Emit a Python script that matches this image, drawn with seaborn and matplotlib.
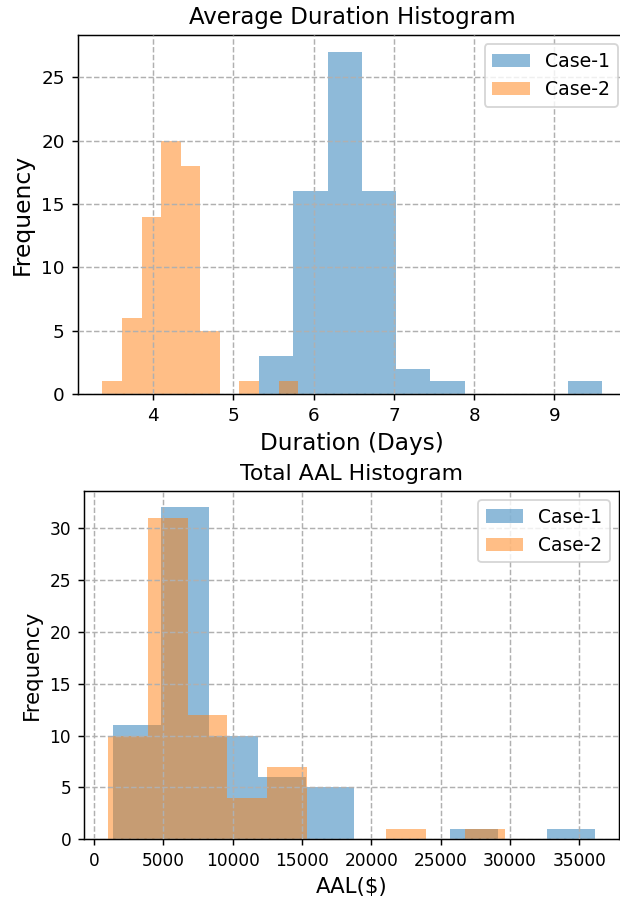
import numpy as np
import matplotlib
matplotlib.use("Agg")
import matplotlib.pyplot as plt
import seaborn as sns

# ---- data ----
n_bins = 10
dur_case1_range = (5.317, 9.595)
dur_case1_counts = [3, 16, 27, 16, 2, 1, 0, 0, 0, 1]
dur_case2_range = (3.368, 5.807)
dur_case2_counts = [1, 6, 14, 20, 18, 5, 0, 1, 0, 1]

aal_case1_range = (1357, 36121)
aal_case1_counts = [11, 32, 10, 6, 5, 0, 0, 1, 0, 1]
aal_case2_range = (1019, 29645)
aal_case2_counts = [10, 31, 12, 4, 7, 0, 0, 1, 0, 1]

series_labels = ["Case-1", "Case-2"]
series_colors = ["tab:blue", "tab:orange"]

DPI = 132
fig = plt.figure(figsize=(620 / DPI, 904 / DPI), dpi=DPI)

ax_top = fig.add_axes([77.5 / 620, (904 - 394) / 904, 549.6 / 620, 359 / 904])
ax_bot = fig.add_axes([84.0 / 620, (904 - 839.3) / 904, 535 / 620, 348.6 / 904])


def centers_of(rng):
    lo, hi = rng
    w = (hi - lo) / n_bins
    return lo + w * (np.arange(n_bins) + 0.5)


def draw(ax, ranges, counts_list):
    for rng, counts, lab, col in zip(ranges, counts_list, series_labels, series_colors):
        sns.histplot(x=centers_of(rng), weights=counts, bins=n_bins, binrange=rng,
                     color=col, alpha=0.5, linewidth=0, edgecolor="none",
                     label=lab, ax=ax)


draw(ax_top, [dur_case1_range, dur_case2_range], [dur_case1_counts, dur_case2_counts])
draw(ax_bot, [aal_case1_range, aal_case2_range], [aal_case1_counts, aal_case2_counts])

for ax in (ax_top, ax_bot):
    ax.grid(True, linestyle="--", color="#b0b0b0", linewidth=0.8)
    ax.set_axisbelow(False)

# top
ax_top.set_title("Average Duration Histogram", fontsize=12.5)
ax_top.set_xlabel("Duration (Days)", fontsize=12.6)
ax_top.set_ylabel("Frequency", fontsize=12.8)
ax_top.tick_params(labelsize=10)
ax_top.legend(loc="upper right", fontsize=10.3)

# bottom
ax_bot.set_title("Total AAL Histogram", fontsize=12.0)
ax_bot.set_xlabel("AAL($)", fontsize=11.6)
ax_bot.set_ylabel("Frequency", fontsize=11.7)
ax_bot.tick_params(labelsize=9.3)
ax_bot.legend(loc="upper right", fontsize=10.2)

fig.savefig("out.png", dpi=DPI)
